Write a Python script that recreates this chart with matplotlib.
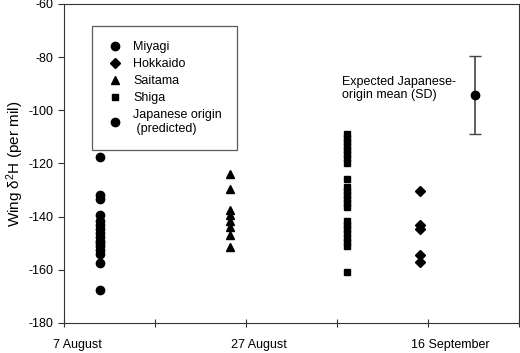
import matplotlib
matplotlib.use('Agg')
import matplotlib.pyplot as plt
from matplotlib.lines import Line2D

plt.rcParams['font.family'] = ['Liberation Sans', 'DejaVu Sans']
plt.rcParams['axes.unicode_minus'] = False
plt.rcParams['mathtext.fontset'] = 'custom'
plt.rcParams['mathtext.rm'] = 'Liberation Sans'

# days after 7 August
miyagi_day = 4
miyagi = [-117.5, -132, -133.5, -139.5, -141.5, -143, -144.5, -146, -147.5,
          -149, -150, -151, -152.5, -154, -157.5, -167.5]
saitama_day = 18.2
saitama = [-124, -129.5, -137.5, -139.5, -141.5, -144, -147, -151.5]
shiga_day = 31.1
shiga = [-109, -110.5, -112, -113.5, -115, -116.5, -118, -120, -126,
         -129, -130.5, -132, -133.5, -135, -136.5, -141.5, -143, -144.5,
         -146, -148, -149.5, -151, -160.7]
hokkaido_day = 39.1
hokkaido = [-130.5, -143, -144.5, -154.5, -157]
expected_day = 45.2
expected_mean = -94.3
expected_sd = 14.6

tick_days = [0, 10, 20, 30, 40, 50]
date_label_days = [1.5, 21.4, 42.5]
date_labels = ['7 August', '27 August', '16 September']

fig = plt.figure(figsize=(5.2, 3.53), dpi=100)
ax = fig.add_axes([0.123, 0.085, 0.875, 0.904])

ax.plot([miyagi_day] * len(miyagi), miyagi, 'o', color='black', ms=6)
ax.plot([saitama_day] * len(saitama), saitama, '^', color='black', ms=6)
ax.plot([shiga_day] * len(shiga), shiga, 's', color='black', ms=5)
ax.plot([hokkaido_day] * len(hokkaido), hokkaido, 'D', color='black', ms=5)
ax.errorbar([expected_day], [expected_mean], yerr=[expected_sd], fmt='o',
            color='black', ecolor='#444444', ms=6, capsize=4, elinewidth=1.2)

ax.text(30.5, -91.8, 'Expected Japanese-\norigin mean (SD)', fontsize=9,
        va='center', ha='left', linespacing=1.1)

ax.set_xlim(0, 50)
ax.set_ylim(-180, -60)
ax.set_xticks(tick_days)
ax.set_xticklabels([])
for d, lab in zip(date_label_days, date_labels):
    ax.text(d, -0.07, lab, transform=ax.get_xaxis_transform(), fontsize=9,
            ha='center', va='center', clip_on=False)
ax.set_yticks(range(-180, -59, 20))
ax.tick_params(axis='x', direction='inout', length=6, color='#333333')
ax.tick_params(axis='y', direction='out', length=4, labelsize=9,
               color='#333333')
for s in ax.spines.values():
    s.set_color('#333333')
ax.set_ylabel('Wing $\\mathregular{\\delta^2}$H (per mil)', fontsize=11,
              labelpad=2)

handles = [
    Line2D([], [], marker='o', ls='', color='black', ms=6),
    Line2D([], [], marker='D', ls='', color='black', ms=5),
    Line2D([], [], marker='^', ls='', color='black', ms=6),
    Line2D([], [], marker='s', ls='', color='black', ms=5),
    Line2D([], [], marker='o', ls='', color='black', ms=6),
]
labels = ['Miyagi', 'Hokkaido', 'Saitama', 'Shiga', 'Japanese origin\n (predicted)']
leg = ax.legend(handles, labels, loc='upper left', bbox_to_anchor=(0.062, 0.93),
                fontsize=9, frameon=True, fancybox=False, edgecolor='#333333',
                labelspacing=0.4, handletextpad=0.9, borderpad=1.2,
                borderaxespad=0, handlelength=1.2)
leg.get_frame().set_linewidth(0.9)

fig.savefig('out.png', dpi=100)
